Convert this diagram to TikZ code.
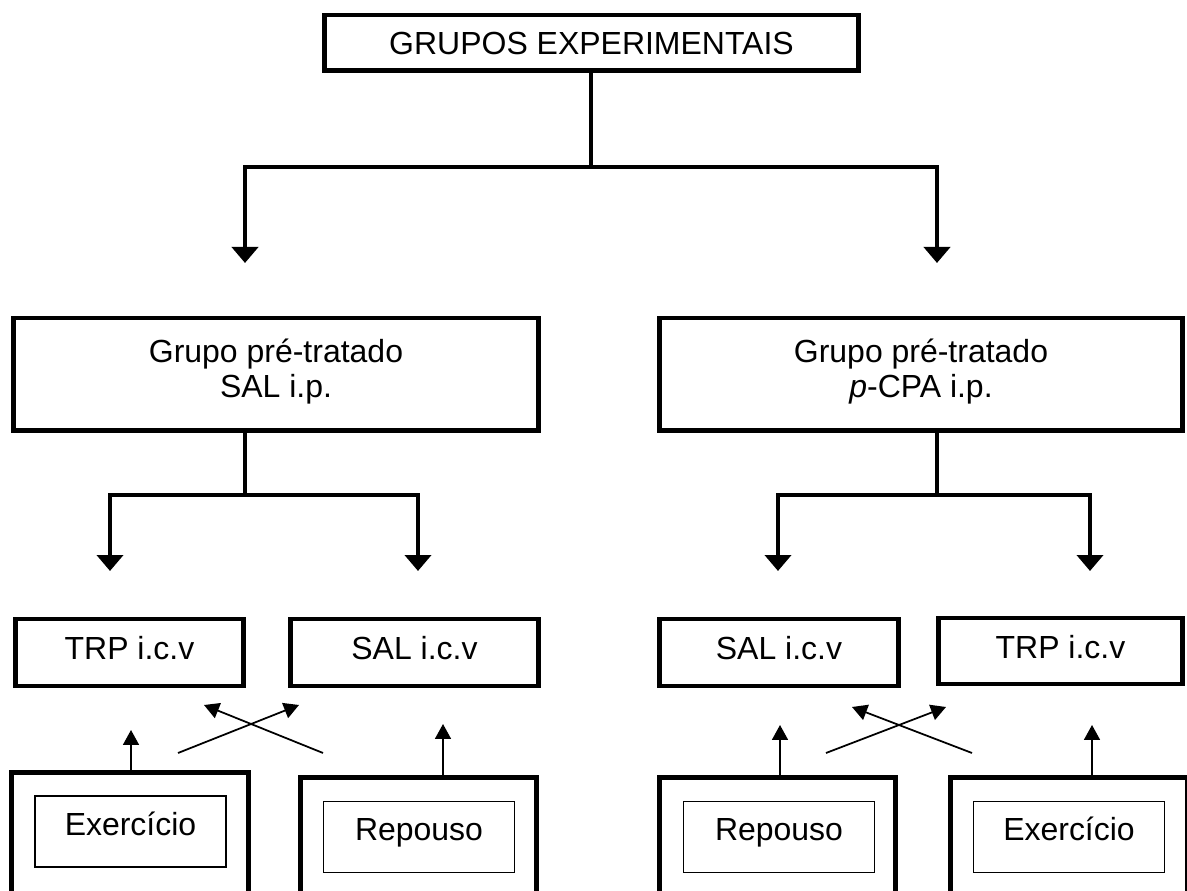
\documentclass[tikz,border=0pt]{standalone}
\usepackage{fontspec}
\setmainfont{Liberation Sans}
\usetikzlibrary{arrows.meta,positioning,calc}

\tikzset{
  box/.style={draw, line width=2.55pt, inner sep=0pt, align=center},
  groupbox/.style={box, minimum height=2.25cm, text depth=0.26cm},
  smallbox/.style={box, minimum height=1.33cm, text height=0.5cm, text depth=0.2cm},
  frame/.style={draw, line width=2.83pt, inner sep=0pt, minimum height=2.85cm},
  inbox/.style={draw, line width=0.85pt, inner sep=0pt, minimum width=3.83cm, minimum height=1.43cm, text height=0.5cm, text depth=0.36cm},
  bigline/.style={line width=2.55pt},
  bigarrow/.style={line width=2.55pt, -{Triangle[length=0.32cm,width=0.52cm]}},
  smallarrow/.style={line width=1pt, -{Triangle[length=0.3cm,width=0.32cm]}},
  crossline/.style={line width=1pt, -{Triangle[length=0.3cm,width=0.32cm]}}
}

\begin{document}
\begin{tikzpicture}[x=0.02cm, y=-0.02cm, font=\fontsize{18.2pt}{19.8pt}\selectfont]
\useasboundingbox (0,0) rectangle (1187,891);
\clip (0,0) rectangle (1187,891);

% top level
\node[box, minimum width=10.69cm, minimum height=1.11cm] (grupos) at (591.5,43) {GRUPOS EXPERIMENTAIS};
\coordinate (jtop) at (591,167);
\coordinate (tipL) at (245,263);
\coordinate (tipR) at (937,263);
\draw[bigline] (grupos.south -| jtop) -- (jtop);
\draw[bigarrow] (jtop) -| (tipL);
\draw[bigarrow] (jtop) -| (tipR);

% pre-treated groups
\node[groupbox, minimum width=10.51cm] (gsal) at (276,374.5) {Grupo pré-tratado\\SAL i.p.};
\node[groupbox, minimum width=10.47cm] (gpcpa) at (921,374.5) {Grupo pré-tratado\\\textit{p}-CPA i.p.};

% branches
\coordinate (jL) at (245,495);
\coordinate (jR) at (937,495);
\coordinate (tL1) at (110,571);
\coordinate (tL2) at (418,571);
\coordinate (tR1) at (778,571);
\coordinate (tR2) at (1090,571);
\draw[bigline] (gsal.south -| jL) -- (jL);
\draw[bigarrow] (jL) -| (tL1);
\draw[bigarrow] (jL) -| (tL2);
\draw[bigline] (gpcpa.south -| jR) -- (jR);
\draw[bigarrow] (jR) -| (tR1);
\draw[bigarrow] (jR) -| (tR2);

% i.c.v boxes
\node[smallbox, minimum width=4.57cm] (trpL) at (129.5,652.5) {TRP i.c.v};
\node[smallbox, minimum width=4.97cm] (salL) at (414.5,652.5) {SAL i.c.v};
\node[smallbox, minimum width=4.79cm] (salR) at (779,652.5) {SAL i.c.v};
\node[smallbox, minimum width=4.89cm] (trpR) at (1060.5,651) {TRP i.c.v};

% bottom frames
\node[frame, minimum width=4.74cm, minimum height=2.95cm] (exL) at (130,846.25) {};
\node[frame, minimum width=4.72cm] (repL) at (418.5,848.75) {};
\node[frame, minimum width=4.72cm] (repR) at (777.5,848.75) {};
\node[frame, minimum width=4.74cm] (exR) at (1069,848.75) {};
\node[inbox] (exLin) at (130.5,831.5) {Exercício};
\node[inbox] (repLin) at (419,837) {Repouso};
\node[inbox] (repRin) at (779,837) {Repouso};
\node[inbox] (exRin) at (1069,837) {Exercício};

% small arrows, left
\coordinate (aL1) at (131,730);
\coordinate (aL2) at (443,724);
\draw[smallarrow] (exL.north -| aL1) -- (aL1);
\draw[smallarrow] (repL.north -| aL2) -- (aL2);
\coordinate (cL1) at (178,753);
\coordinate (cL2) at (299,705);
\coordinate (cL3) at (323,753);
\coordinate (cL4) at (204,705);
\draw[crossline] (cL1) -- (cL2);
\draw[crossline] (cL3) -- (cL4);

% small arrows, right
\coordinate (aR1) at (780,725);
\coordinate (aR2) at (1092,725);
\draw[smallarrow] (repR.north -| aR1) -- (aR1);
\draw[smallarrow] (exR.north -| aR2) -- (aR2);
\coordinate (cR1) at (826,753);
\coordinate (cR2) at (946,707);
\coordinate (cR3) at (972,753);
\coordinate (cR4) at (852,707);
\draw[crossline] (cR1) -- (cR2);
\draw[crossline] (cR3) -- (cR4);
\end{tikzpicture}
\end{document}
